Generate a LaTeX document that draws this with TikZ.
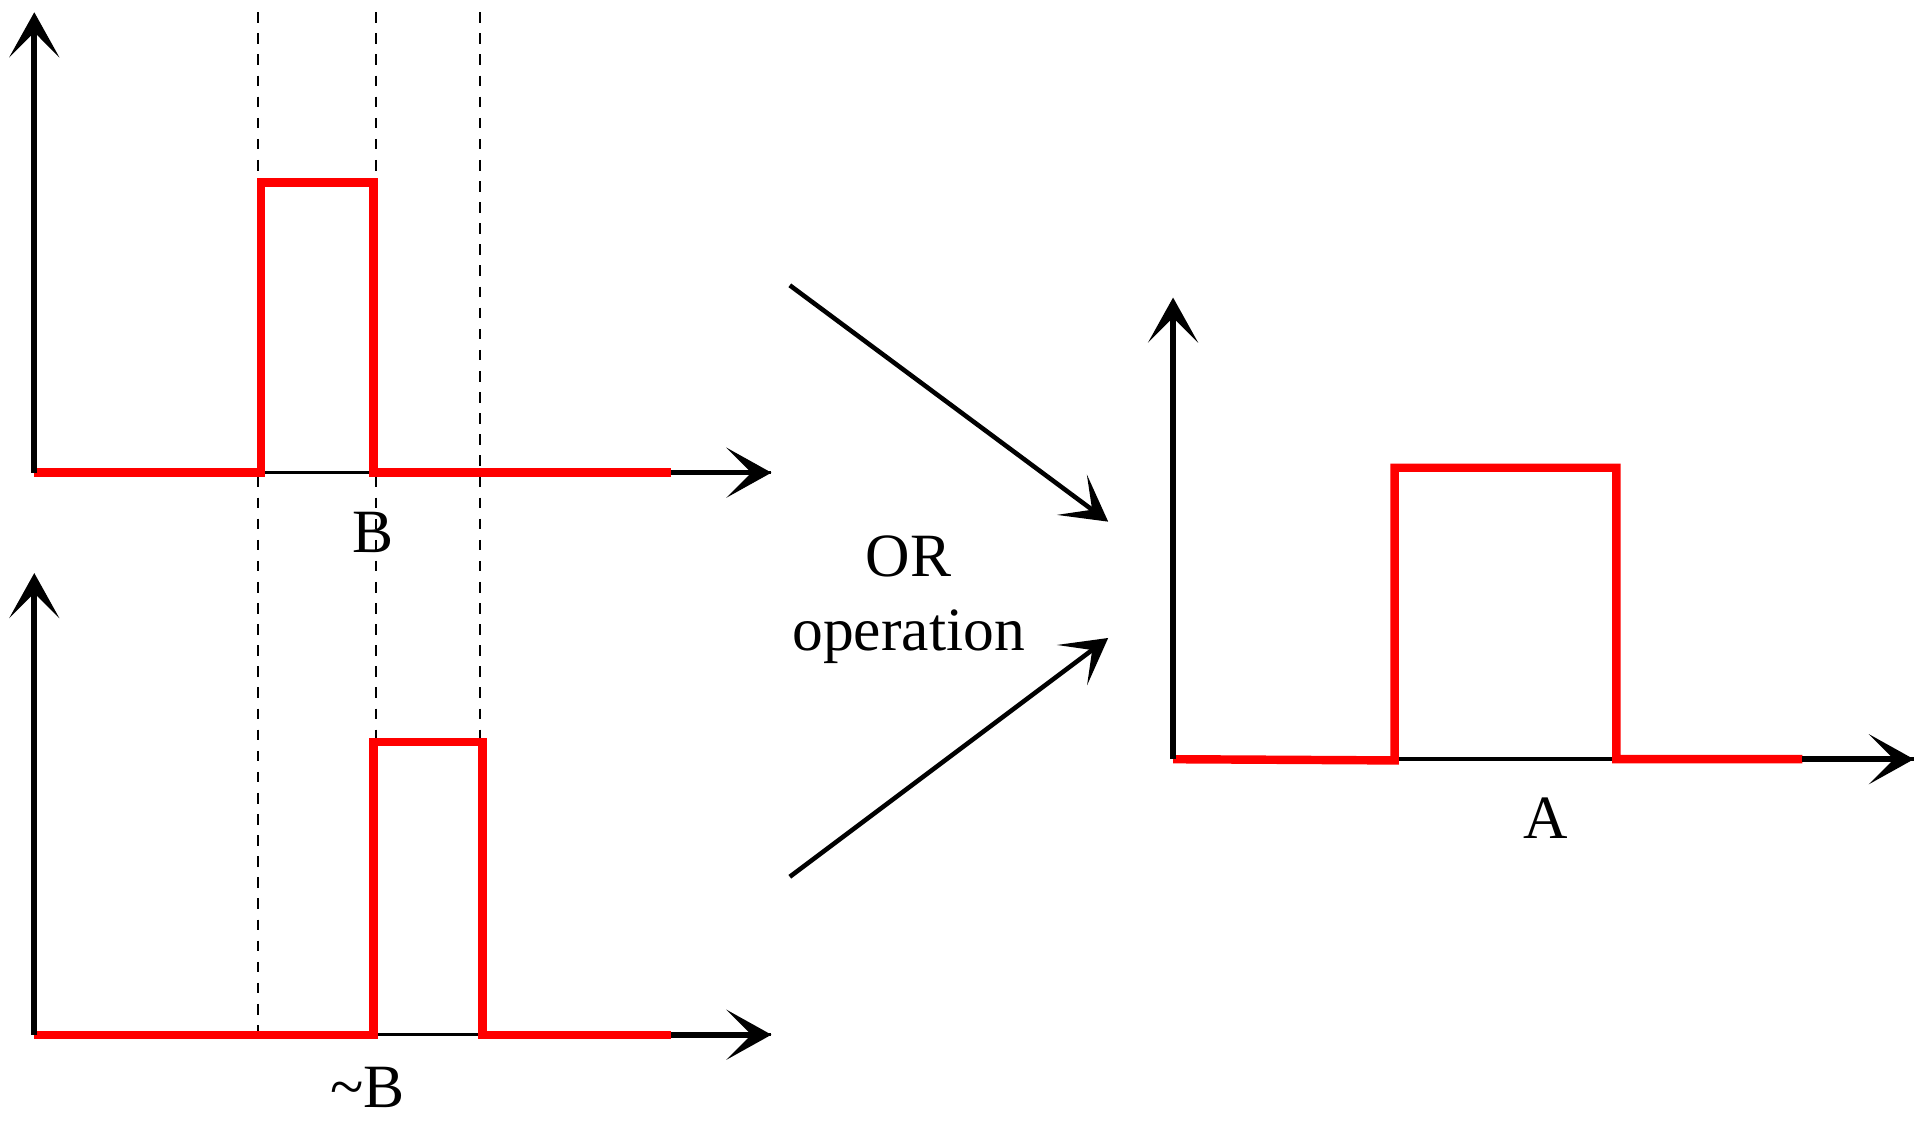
\documentclass[tikz,border=0pt]{standalone}
\usepackage{fontspec}
\setmainfont{Liberation Serif}
\usetikzlibrary{arrows.meta}
\begin{document}
\begin{tikzpicture}[x={(0.012245cm,0)},y={(0,-0.012245cm)},
  axis/.style={line width=1.6pt,-{Stealth[length=0.45cm,width=0.5cm,inset=0.25cm]}},
  sig/.style={red,line width=2.4pt},
  guide/.style={dashed,line width=0.6pt},
  lab/.style={font=\fontsize{17.5}{21}\selectfont}]
\useasboundingbox (0,0) rectangle (1568,915.5);
% guides
\foreach \x/\n in {211/g1,307/g2,392/g3}{
  \coordinate (\n t) at (\x,10); \coordinate (\n b) at (\x,845);
  \draw[guide] (\n t) -- (\n b);}
% top plot
\coordinate (o1) at (28,386);
\coordinate (y1) at (28,10);
\coordinate (x1) at (630,386);
\draw[line width=1pt] (o1) -- (x1);
\draw[sig] (28,386)--(213,386)--(213,149)--(305,149)--(305,386)--(548,386);
\draw[axis] (o1) -- (y1);
\draw[axis] (548,386) -- (x1);
\node[lab] (lb) at (305,435) {B};
% bottom plot
\coordinate (o2) at (28,845);
\coordinate (y2) at (28,468);
\coordinate (x2) at (630,845);
\draw[line width=1pt] (o2) -- (x2);
\draw[sig] (28,845)--(305,845)--(305,606)--(394,606)--(394,845)--(548,845);
\draw[axis] (o2) -- (y2);
\draw[axis] (548,845) -- (x2);
\node[lab] (lnb) at (300,888) {\char"7E B};
% OR arrows
\coordinate (a1s) at (645,233); \coordinate (a1e) at (905,426);
\coordinate (a2s) at (645,716); \coordinate (a2e) at (905,521);
\draw[axis,line width=1.3pt] (a1s) -- (a1e);
\draw[axis,line width=1.3pt] (a2s) -- (a2e);
\node[lab,align=center] (op) at (742,490) {OR\\operation};
% right plot
\coordinate (o3) at (958,620);
\coordinate (y3) at (958,243);
\coordinate (x3) at (1563,620);
\draw[line width=1pt] (o3) -- (x3);
\draw[sig] (958,620)--(1139,621)--(1139,382)--(1320,382)--(1320,620)--(1472,620);
\draw[axis] (o3) -- (y3);
\draw[axis] (1472,620) -- (x3);
\node[lab] (la) at (1262,668) {A};
\end{tikzpicture}
\end{document}
